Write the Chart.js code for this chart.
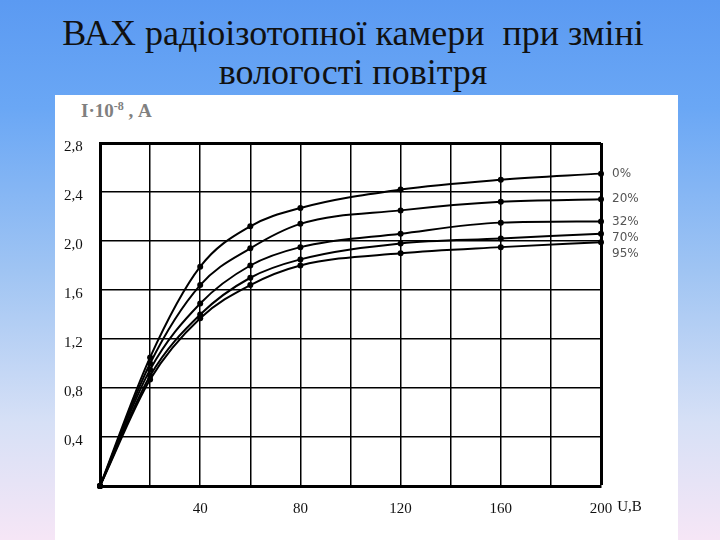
<!DOCTYPE html>
<html>
<head>
<meta charset="utf-8">
<script src="https://cdn.jsdelivr.net/npm/chart.js@4"></script>
<style>
  html, body { margin: 0; padding: 0; }
  body {
    width: 720px; height: 540px; overflow: hidden; position: relative;
    background: linear-gradient(to bottom, #5b9af2 0%, #6aa7f5 20%, #9fc4f3 50%, #d6e0f6 78%, #f6e6f6 100%);
  }
  .title {
    position: absolute; left: 0; top: 14px; width: 706px;
    text-align: center; font-family: "Liberation Serif", serif;
    font-size: 36px; line-height: 39px; color: #111;
  }
  .panel {
    position: absolute; left: 55px; top: 95px; width: 623px; height: 445px; background: #fff;
  }
  .ytitle {
    position: absolute; left: 26px; top: 4px;
    font-family: "Liberation Serif", serif; font-weight: bold; font-size: 19px; color: #808080;
  }
  .ytitle sup { font-size: 12px; }
  canvas { position: absolute; left: 0; top: 0; }
</style>
</head>
<body>
<div class="title">ВАХ радіоізотопної камери&nbsp; при зміні<br>вологості повітря</div>
<div class="panel">
  <div class="ytitle">I·10<sup>-8</sup> , А</div>
  <canvas id="chart" width="623" height="445"></canvas>
</div>
<script>
// voltage U, V
const voltage = [0, 20, 40, 60, 80, 120, 160, 200];
// air humidity, one curve each
const humidity = ['0%', '20%', '32%', '70%', '95%'];
// current I * 10^-8, A
const current0 = [0, 1.05, 1.79, 2.12, 2.27, 2.42, 2.50, 2.55];
const current20 = [0, 1.00, 1.64, 1.94, 2.14, 2.25, 2.32, 2.34];
const current32 = [0, 0.95, 1.49, 1.80, 1.95, 2.06, 2.15, 2.16];
const current70 = [0, 0.90, 1.40, 1.70, 1.85, 1.98, 2.02, 2.06];
const current95 = [0, 0.87, 1.37, 1.64, 1.80, 1.90, 1.95, 1.99];

const xTicks = [40, 80, 120, 160, 200];
const tickFont = { family: '"Liberation Serif", serif', size: 15 };

const allCurrents = [current0, current20, current32, current70, current95];

// labels at the end of each curve + the unit after the last x tick
const curveLabels = {
  id: 'curveLabels',
  afterDatasetsDraw(chart) {
    const ctx = chart.ctx;
    const xs = chart.scales.x, ys = chart.scales.y;
    ctx.save();
    ctx.font = '12px "DejaVu Sans", sans-serif';
    ctx.fillStyle = '#555';
    ctx.textBaseline = 'middle';
    ctx.textAlign = 'left';
    let prev = -Infinity;
    chart.data.datasets.forEach(ds => {
      const last = ds.data[ds.data.length - 1];
      let y = Math.max(ys.getPixelForValue(last.y), prev + 16);
      ctx.fillText(ds.label, xs.getPixelForValue(last.x) + 11, y);
      prev = y;
    });
    // "U,В" next to 200
    ctx.font = tickFont.size + 'px ' + tickFont.family;
    ctx.fillStyle = '#111';
    ctx.textBaseline = 'top';
    const last = xTicks[xTicks.length - 1];
    const w = ctx.measureText(String(last)).width;
    ctx.fillText('U,В', xs.getPixelForValue(last) + w / 2 + 5, xs.top + 14);
    ctx.restore();
  }
};

new Chart(document.getElementById('chart'), {
  type: 'line',
  data: {
    datasets: humidity.map((h, i) => ({
      label: h,
      data: voltage.map((v, j) => ({ x: v, y: allCurrents[i][j] })),
      borderColor: '#000',
      backgroundColor: '#000',
      borderWidth: 2,
      pointRadius: 3,
      pointBorderWidth: 0,
      cubicInterpolationMode: 'monotone',
      clip: false
    }))
  },
  options: {
    responsive: false,
    animation: false,
    layout: { padding: { left: 9, top: 48, right: 77, bottom: 0 } },
    plugins: { legend: { display: false }, tooltip: { enabled: false } },
    scales: {
      x: {
        type: 'linear', min: 0, max: 200,
        afterFit: s => { s.height = 54; },
        grid: {
          color: '#000', drawTicks: false,
          lineWidth: c => (c.tick && c.tick.value === 200) ? 3 : 1.5
        },
        border: { color: '#000', width: 3 },
        ticks: {
          stepSize: 20, autoSkip: false, maxRotation: 0, padding: 14,
          color: '#111', font: tickFont,
          callback: v => xTicks.includes(v) ? String(v) : ''
        }
      },
      y: {
        min: 0, max: 2.8,
        afterFit: s => { s.width = 36; },
        grid: {
          color: '#000', drawTicks: false,
          lineWidth: c => (c.tick && Math.abs(c.tick.value - 2.8) < 1e-6) ? 3 : 1.5
        },
        border: { color: '#000', width: 3 },
        ticks: {
          stepSize: 0.4, crossAlign: 'far', labelOffset: 4,
          color: '#111', font: tickFont,
          callback: v => v > 0 ? v.toFixed(1).replace('.', ',') : ''
        }
      }
    }
  },
  plugins: [curveLabels]
});
</script>
</body>
</html>
